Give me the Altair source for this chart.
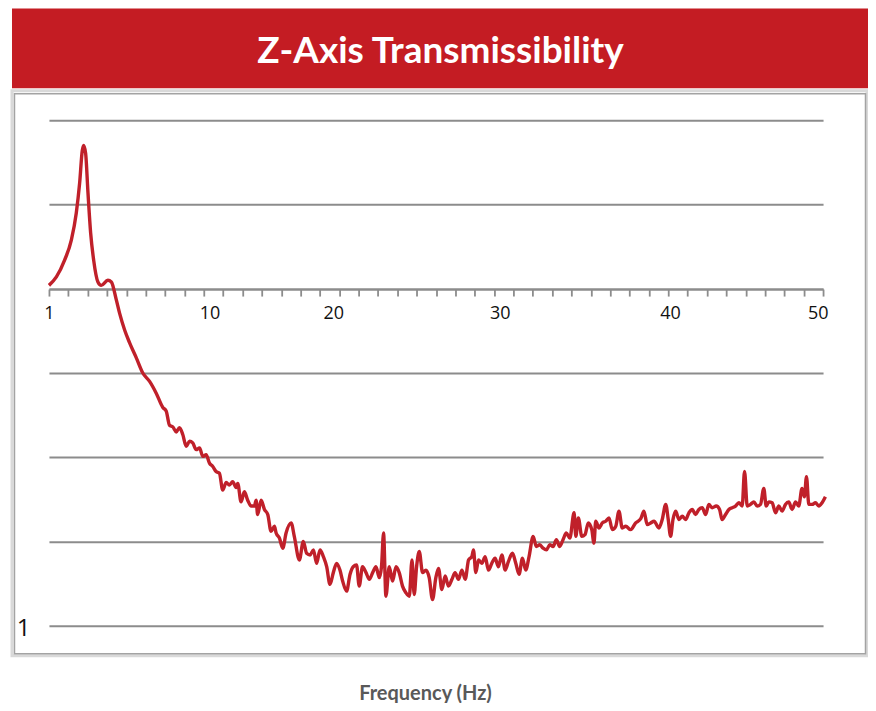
import altair as alt
import pandas as pd

# Frequency (Hz) and transmissibility (in gridline units; the 1 label sits on the bottom line)
freq = [
    1.00, 1.47, 1.99, 2.42, 2.73, 2.94, 3.11, 3.19, 3.32, 3.47,
    3.64, 3.83, 4.10, 4.31, 4.73, 4.95, 5.26, 5.47, 5.79, 6.10,
    6.53, 6.94, 7.37, 7.79, 8.21, 8.42, 8.63, 8.84, 9.06, 9.26,
    9.47, 9.69, 9.90, 10.10, 10.32, 10.53, 10.74, 10.95, 11.16, 11.37,
    11.58, 11.79, 12.00, 12.22, 12.42, 12.63, 12.85, 12.95, 13.16, 13.37,
    13.58, 13.80, 14.01, 14.11, 14.21, 14.43, 14.64, 14.85, 15.06, 15.27,
    15.38, 15.59, 15.80, 16.01, 16.33, 16.53, 16.85, 17.10, 17.31, 17.53,
    17.74, 17.94, 18.16, 18.37, 18.58, 18.79, 19.00, 19.21, 19.42, 19.59,
    19.84, 20.06, 20.26, 20.47, 20.64, 20.85, 21.07, 21.28, 21.49, 21.70,
    21.91, 22.05, 22.18, 22.33, 22.54, 22.75, 22.97, 23.17, 23.38, 23.60,
    23.81, 23.98, 24.12, 24.27, 24.44, 24.65, 24.86, 25.07, 25.28, 25.49,
    25.66, 25.87, 26.08, 26.29, 26.51, 26.71, 26.92, 27.14, 27.35, 27.56,
    27.77, 27.87, 28.02, 28.19, 28.40, 28.61, 28.82, 29.03, 29.24, 29.45,
    29.67, 29.88, 30.08, 30.34, 30.55, 30.76, 30.97, 31.18, 31.39, 31.65,
    31.85, 32.07, 32.28, 32.49, 32.70, 32.91, 33.12, 33.33, 33.54, 33.75,
    33.97, 34.24, 34.35, 34.51, 34.73, 34.93, 35.14, 35.36, 35.50, 35.61,
    35.82, 36.03, 36.24, 36.45, 36.66, 36.88, 37.08, 37.29, 37.51, 37.82,
    38.14, 38.46, 38.66, 38.87, 39.09, 39.30, 39.61, 39.82, 40.04, 40.20,
    40.35, 40.50, 40.67, 40.88, 41.09, 41.30, 41.51, 41.72, 41.93, 42.14,
    42.35, 42.57, 42.77, 42.98, 43.24, 43.45, 43.61, 43.83, 44.04, 44.25,
    44.46, 44.67, 44.88, 45.03, 45.20, 45.41, 45.62, 45.83, 46.04, 46.25,
    46.40, 46.57, 46.78, 46.99, 47.20, 47.41, 47.62, 47.83, 48.04, 48.26,
    48.46, 48.67, 48.82, 48.95, 49.10, 49.31, 49.52, 49.73, 49.94, 50.15,
]
trans = [
    4.04, 4.14, 4.34, 4.58, 4.90, 5.25, 5.64, 5.70, 5.61, 5.14,
    4.66, 4.34, 4.08, 4.04, 4.10, 4.08, 3.87, 3.71, 3.51, 3.36,
    3.18, 3.00, 2.90, 2.76, 2.59, 2.55, 2.38, 2.36, 2.30, 2.35,
    2.27, 2.13, 2.19, 2.17, 2.09, 2.11, 2.01, 2.03, 1.93, 1.89,
    1.83, 1.81, 1.61, 1.70, 1.67, 1.71, 1.64, 1.69, 1.47, 1.59,
    1.49, 1.42, 1.42, 1.49, 1.32, 1.49, 1.38, 1.32, 1.12, 1.18,
    1.10, 1.04, 0.92, 1.10, 1.22, 1.06, 0.78, 1.00, 0.86, 0.84,
    0.90, 0.74, 0.90, 0.82, 0.70, 0.49, 0.63, 0.74, 0.66, 0.53,
    0.41, 0.61, 0.70, 0.72, 0.47, 0.70, 0.63, 0.55, 0.63, 0.70,
    0.57, 0.70, 1.10, 0.35, 0.70, 0.53, 0.70, 0.63, 0.47, 0.39,
    0.35, 0.78, 0.37, 0.70, 0.88, 0.63, 0.66, 0.57, 0.31, 0.57,
    0.68, 0.43, 0.59, 0.47, 0.55, 0.63, 0.55, 0.66, 0.55, 0.78,
    0.82, 0.90, 0.63, 0.78, 0.74, 0.82, 0.66, 0.74, 0.80, 0.70,
    0.84, 0.66, 0.76, 0.86, 0.74, 0.61, 0.80, 0.66, 0.82, 1.06,
    0.94, 0.96, 0.92, 0.90, 0.96, 0.94, 1.02, 0.94, 1.02, 1.10,
    1.04, 1.34, 1.06, 1.28, 1.06, 1.08, 1.22, 1.14, 0.98, 1.24,
    1.16, 1.22, 1.24, 1.28, 1.14, 1.18, 1.36, 1.16, 1.18, 1.14,
    1.22, 1.27, 1.36, 1.20, 1.22, 1.24, 1.16, 1.26, 1.44, 1.26,
    1.06, 1.26, 1.36, 1.26, 1.30, 1.26, 1.34, 1.38, 1.32, 1.38,
    1.40, 1.32, 1.44, 1.40, 1.42, 1.38, 1.26, 1.32, 1.38, 1.40,
    1.42, 1.46, 1.42, 1.83, 1.42, 1.44, 1.47, 1.42, 1.44, 1.63,
    1.42, 1.47, 1.46, 1.34, 1.42, 1.36, 1.44, 1.47, 1.38, 1.47,
    1.42, 1.63, 1.53, 1.77, 1.44, 1.44, 1.46, 1.42, 1.46, 1.53,
]
assert len(freq) == len(trans)

# tick marks along the frequency axis (41 evenly spaced ticks from 1 to 50)
tick_values = [1 + 49 * k / 40 for k in range(41)]
# where the printed frequency labels sit
label_values = [1.0, 11.16, 19.0, 29.54, 40.31, 49.67]
label_texts = ["1", "10", "20", "30", "40", "50"]
grid_values = [0, 1, 2, 3, 4, 5, 6]

TITLE = "Z-Axis Transmissibility"
XTITLE = "Frequency (Hz)"
RED = "#c41c23"
LINE_RED = "#c0202a"
GRAY = "#8c8c8c"

df = pd.DataFrame({"freq": freq, "trans": trans})
one = pd.DataFrame({"k": [0]})

xscale = alt.Scale(domain=[1, 50], nice=False, zero=False)
yscale = alt.Scale(domain=[0, 6], nice=False, zero=False)

tick_axis = alt.Axis(
    values=tick_values, labels=False, title=None, grid=False,
    domain=True, domainColor=GRAY, domainWidth=2,
    ticks=True, tickColor=GRAY, tickWidth=1.8, tickSize=7,
    offset=-337,
)
label_axis = alt.Axis(
    values=label_values, title=None, grid=False, domain=False, ticks=False,
    labelExpr="datum.value < 2 ? '1' : format(round(datum.value / 10) * 10, 'd')",
    labelFont="Open Sans", labelFontSize=18, labelColor="#111111",
    labelPadding=15, labelFlush=False, labelOverlap=False, orient="bottom",
    offset=-337,
)
y_axis = alt.Axis(
    values=grid_values, title=None, grid=True, gridColor=GRAY, gridWidth=2,
    domain=False, ticks=False,
    labelExpr="datum.value == 0 ? '1' : ''",
    labelFont="Open Sans", labelFontSize=24, labelColor="#111111",
    labelPadding=19, labelOffset=3,
)

frame_outer = alt.Chart(one).mark_rect(fillOpacity=0, stroke="#d9d9d9", strokeWidth=3).encode(
    x=alt.value(-37), x2=alt.value(819), y=alt.value(-29.5), y2=alt.value(536)
)
frame_inner = alt.Chart(one).mark_rect(fillOpacity=0, stroke="#a3a3a3", strokeWidth=1.5).encode(
    x=alt.value(-34.5), x2=alt.value(817.5), y=alt.value(-26.5), y2=alt.value(534)
)
banner = alt.Chart(one).mark_rect(color=RED).encode(
    x=alt.value(-37), x2=alt.value(821), y=alt.value(-112), y2=alt.value(-32)
)
title = alt.Chart(one).mark_text(
    text=TITLE, font="Lato", fontWeight="bold", fontSize=37, color="white",
    align="center", baseline="alphabetic",
).encode(x=alt.value(392), y=alt.value(-57))
xtitle = alt.Chart(one).mark_text(
    text=XTITLE, font="Lato", fontWeight="bold", fontSize=20, color="#595959",
    align="center", baseline="alphabetic",
).encode(x=alt.value(377), y=alt.value(580))

line = alt.Chart(df).mark_line(color=LINE_RED, strokeWidth=3.4, interpolate="monotone").encode(
    x=alt.X("freq:Q", scale=xscale, axis=tick_axis),
    y=alt.Y("trans:Q", scale=yscale, axis=y_axis),
)
labels = alt.Chart(df).mark_point(opacity=0).encode(
    x=alt.X("freq:Q", scale=xscale, axis=label_axis),
)

chart = (
    alt.layer(frame_outer, frame_inner, banner, title, xtitle, line, labels)
    .resolve_scale(x="independent")
    .resolve_axis(x="independent")
    .properties(
        width=775, height=506,
        padding={"left": 41, "top": 112, "right": 45, "bottom": 77},
        autosize=alt.AutoSizeParams(type="none"),
    )
    .configure_view(stroke=None)
)

chart.save("out.html", embed_options={"renderer": "svg", "actions": False})
